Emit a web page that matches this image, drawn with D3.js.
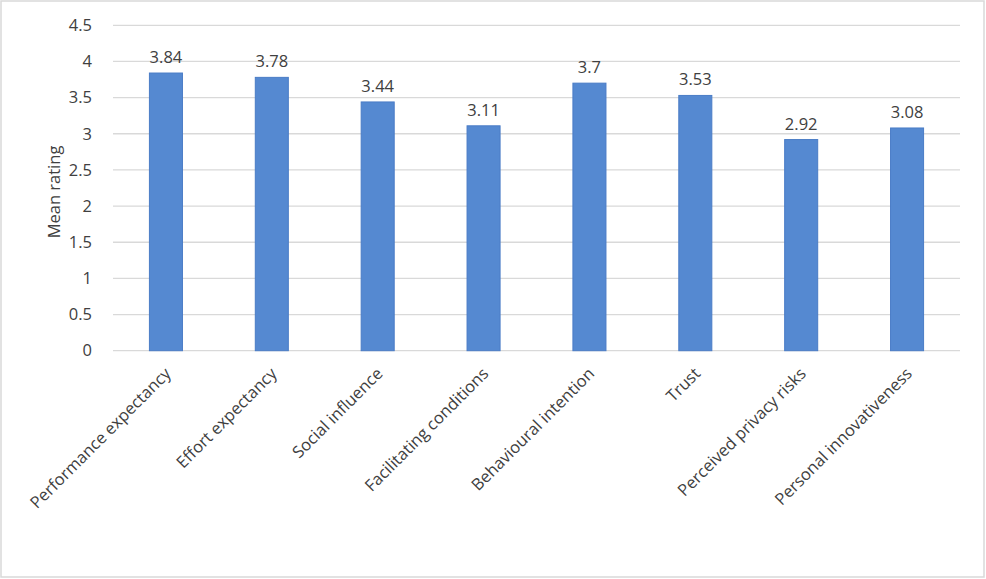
<!DOCTYPE html>
<html>
<head>
<meta charset="utf-8">
<script src="https://cdn.jsdelivr.net/npm/d3@7"></script>
<style>
  body { margin: 0; background: #fff; }
  svg text { font-family: "Open Sans", "Noto Sans", sans-serif; fill: #404040; }
</style>
</head>
<body>
<div id="chart"></div>
<script>
// categories and mean ratings
const categories = [
    'Performance expectancy', 'Effort expectancy', 'Social influence', 'Facilitating conditions',
    'Behavioural intention', 'Trust', 'Perceived privacy risks', 'Personal innovativeness'
];
const means = [3.84, 3.78, 3.44, 3.11, 3.7, 3.53, 2.92, 3.08];
const yTicks = [0, 0.5, 1, 1.5, 2, 2.5, 3, 3.5, 4, 4.5];

const width = 986, height = 579;
const margin = { top: 25.3, right: 26, bottom: 228.3, left: 113 };
const fontSize = 16.5;

const svg = d3.select('#chart').append('svg')
    .attr('width', width)
    .attr('height', height);

// outer chart border
svg.append('rect')
    .attr('x', 1).attr('y', 1)
    .attr('width', width - 3).attr('height', height - 3)
    .attr('fill', '#fff')
    .attr('stroke', '#d9d9d9')
    .attr('stroke-width', 1.5);

const x = d3.scaleBand()
    .domain(categories)
    .range([margin.left, width - margin.right])
    .paddingInner(0.688)
    .paddingOuter(0.344);

const y = d3.scaleLinear()
    .domain([0, 4.5])
    .range([height - margin.bottom, margin.top]);

// gridlines
svg.append('g')
    .selectAll('line')
    .data(yTicks)
    .enter().append('line')
        .attr('x1', margin.left)
        .attr('x2', width - margin.right)
        .attr('y1', d => y(d))
        .attr('y2', d => y(d))
        .attr('stroke', '#d9d9d9')
        .attr('stroke-width', 1.3);

// y tick labels
const yAxis = svg.append('g')
    .attr('transform', `translate(${margin.left - 18}, 0)`)
    .call(d3.axisLeft(y).tickValues(yTicks).tickSize(0).tickFormat(d => d));
yAxis.select('.domain').remove();
yAxis.selectAll('text')
    .attr('font-size', fontSize)
    .attr('font-family', '"Open Sans", sans-serif')
    .attr('fill', '#404040');

// bars
svg.append('g')
    .selectAll('rect')
    .data(means)
    .enter().append('rect')
        .attr('x', (d, i) => x(categories[i]))
        .attr('y', d => y(d))
        .attr('width', x.bandwidth())
        .attr('height', d => y(0) - y(d))
        .attr('fill', '#5589d1')
        .attr('stroke', '#4a7cc6')
        .attr('stroke-width', 1);

// value labels
svg.append('g')
    .selectAll('text')
    .data(means)
    .enter().append('text')
        .attr('x', (d, i) => x(categories[i]) + x.bandwidth() / 2)
        .attr('y', d => y(d) - 10)
        .attr('text-anchor', 'middle')
        .attr('font-size', fontSize)
        .text(d => d);

// category labels, rotated
svg.append('g')
    .selectAll('text')
    .data(categories)
    .enter().append('text')
        .attr('text-anchor', 'end')
        .attr('font-size', fontSize)
        .attr('transform', d => `translate(${x(d) + x.bandwidth() / 2 + 6}, ${y(0) + 24}) rotate(-45)`)
        .text(d => d);

// y axis title
svg.append('text')
    .attr('transform', `translate(60, ${(y(0) + y(4.5)) / 2 + 4}) rotate(-90)`)
    .attr('text-anchor', 'middle')
    .attr('font-size', fontSize)
    .text('Mean rating');
</script>
</body>
</html>
